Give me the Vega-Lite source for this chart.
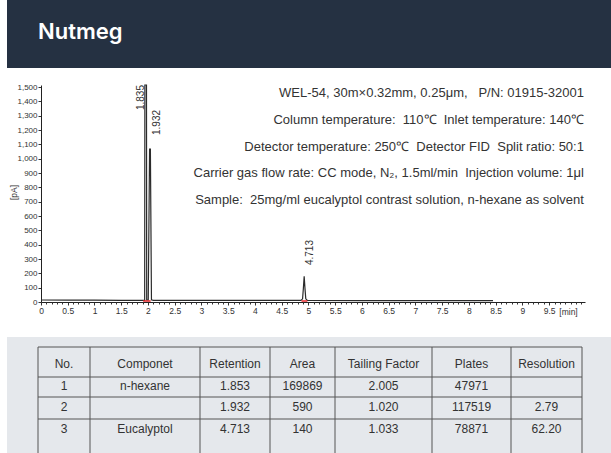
{
  "$schema": "https://vega.github.io/schema/vega-lite/v6.json",
  "background": "white",
  "padding": {"left": 7, "top": 0, "right": 0, "bottom": 0},
  "spacing": 0,
  "config": {"view": {"stroke": null}, "font": "Liberation Sans"},
  "vconcat": [
    {
      "width": 604,
      "height": 68,
      "view": {"fill": "#253142", "stroke": null},
      "data": {"values": [{"title": "Nutmeg"}]},
      "mark": {"type": "text", "align": "left", "baseline": "middle", "dx": -271, "dy": -2, "font": "Inter", "fontSize": 22, "fontWeight": 600, "color": "#ffffff"},
      "encoding": {"text": {"field": "title"}}
    },
    {
      "width": 604,
      "height": 269,
      "view": {"fill": "#ffffff", "stroke": null},
      "resolve": {"axis": {"x": "independent", "y": "independent"}},
      "layer": [
        {
          "data": {"values": [
            {"t": 0.0, "pA": 14}, {"t": 0.5, "pA": 13}, {"t": 1.0, "pA": 13}, {"t": 1.5, "pA": 12},
            {"t": 1.9, "pA": 12}, {"t": 1.938, "pA": 12}, {"t": 1.942, "pA": 1600}, {"t": 1.972, "pA": 1600},
            {"t": 1.976, "pA": 14}, {"t": 2.005, "pA": 14}, {"t": 2.03, "pA": 1067}, {"t": 2.045, "pA": 1067},
            {"t": 2.065, "pA": 15}, {"t": 2.1, "pA": 12}, {"t": 3.0, "pA": 11}, {"t": 4.0, "pA": 11},
            {"t": 4.86, "pA": 11}, {"t": 4.89, "pA": 22}, {"t": 4.905, "pA": 95}, {"t": 4.92, "pA": 180},
            {"t": 4.935, "pA": 95}, {"t": 4.95, "pA": 22}, {"t": 4.98, "pA": 11}, {"t": 6.0, "pA": 10},
            {"t": 7.0, "pA": 10}, {"t": 8.0, "pA": 10}, {"t": 8.45, "pA": 10}
          ]},
          "mark": {"type": "line", "color": "#2b2b2b", "strokeWidth": 1.2},
          "encoding": {
            "x": {
              "field": "t", "type": "quantitative",
              "scale": {"domain": [0, 10.17], "range": [34, 578], "nice": false, "zero": false},
              "axis": {
                "orient": "bottom", "offset": -35,
                "values": [0, 0.5, 1, 1.5, 2, 2.5, 3, 3.5, 4, 4.5, 5, 5.5, 6, 6.5, 7, 7.5, 8, 8.5, 9, 9.5],
                "format": ".1~f", "labelFontSize": 8.5, "labelColor": "#333333", "labelPadding": 1,
                "labelFlush": false, "labelOverlap": false,
                "tickSize": 3, "tickColor": "#333333", "domainColor": "#222222", "grid": false,
                "title": "[min]", "titleX": 561, "titleY": 5, "titleAlign": "center", "titleBaseline": "top",
                "titleFontSize": 8.5, "titleFontWeight": "normal", "titleColor": "#333333"
              }
            },
            "y": {
              "field": "pA", "type": "quantitative",
              "scale": {"domain": [0, 1515], "range": [234, 17], "nice": false, "zero": false, "clamp": true},
              "axis": {
                "orient": "left", "offset": -34,
                "values": [0, 100, 200, 300, 400, 500, 600, 700, 800, 900, 1000, 1100, 1200, 1300, 1400, 1500],
                "format": ",.0f", "labelFontSize": 8, "labelColor": "#333333", "labelPadding": 1,
                "labelFlush": false, "labelOverlap": false,
                "tickSize": 3, "tickColor": "#333333", "domainColor": "#222222", "grid": false,
                "title": "[pA]", "titleX": -28, "titleY": 124, "titleAngle": 270, "titleAlign": "center",
                "titleBaseline": "middle", "titleFontSize": 8.5, "titleFontWeight": "normal", "titleColor": "#333333"
              }
            }
          }
        },
        {
          "data": {"values": [{"t0": 1.91, "t1": 2.05}, {"t0": 4.87, "t1": 4.98}]},
          "mark": {"type": "rule", "color": "#e8262a", "strokeWidth": 1.5},
          "encoding": {
            "x": {
              "field": "t0", "type": "quantitative",
              "axis": {
                "orient": "bottom", "offset": -35, "labels": false, "domain": false, "title": null, "grid": false,
                "tickSize": 2, "tickColor": "#333333",
                "values": [0.1,0.2,0.3,0.4,0.6,0.7,0.8,0.9,1.1,1.2,1.3,1.4,1.6,1.7,1.8,1.9,2.1,2.2,2.3,2.4,2.6,2.7,2.8,2.9,3.1,3.2,3.3,3.4,3.6,3.7,3.8,3.9,4.1,4.2,4.3,4.4,4.6,4.7,4.8,4.9,5.1,5.2,5.3,5.4,5.6,5.7,5.8,5.9,6.1,6.2,6.3,6.4,6.6,6.7,6.8,6.9,7.1,7.2,7.3,7.4,7.6,7.7,7.8,7.9,8.1,8.2,8.3,8.4,8.6,8.7,8.8,8.9,9.1,9.2,9.3,9.4,9.6,9.7,9.8,9.9,10.0,10.1]
              }
            },
            "x2": {"field": "t1"},
            "y": {"datum": 7, "type": "quantitative", "axis": null}
          }
        },
        {
          "data": {"values": [
            {"label": "1.835", "t": 1.87, "h": 1340},
            {"label": "1.932", "t": 2.16, "h": 1166},
            {"label": "4.713", "t": 5.03, "h": 258}
          ]},
          "mark": {"type": "text", "angle": 270, "align": "left", "baseline": "middle", "fontSize": 10, "color": "#333333"},
          "encoding": {
            "x": {"field": "t", "type": "quantitative", "axis": null},
            "y": {"field": "h", "type": "quantitative", "axis": null},
            "text": {"field": "label"}
          }
        },
        {
          "data": {"values": [{}]},
          "mark": {"type": "text", "align": "right", "baseline": "middle", "fontSize": 13, "lineHeight": 26.75, "color": "#333333"},
          "encoding": {
            "x": {"datum": 10.15, "type": "quantitative", "axis": null},
            "y": {"datum": 1459, "type": "quantitative", "axis": null},
            "text": {"value": [
              "WEL-54, 30m×0.32mm, 0.25μm,\u00a0\u00a0 P/N: 01915-32001",
              "Column temperature:\u00a0 110℃\u00a0 Inlet temperature: 140℃",
              "Detector temperature: 250℃\u00a0 Detector FID\u00a0 Split ratio: 50:1",
              "Carrier gas flow rate: CC mode, N₂, 1.5ml/min\u00a0 Injection volume: 1μl",
              "Sample:\u00a0 25mg/ml eucalyptol contrast solution, n-hexane as solvent"
            ]}
          }
        }
      ]
    },
    {
      "width": 604,
      "height": 116,
      "view": {"fill": "#e5e8ec", "stroke": null},
      "resolve": {"scale": {"x": "independent", "y": "independent"}},
      "layer": [
        {
          "data": {"values": [{"r": 0}, {"r": 1}, {"r": 2}, {"r": 3}]},
          "mark": {"type": "rule", "color": "#555555", "strokeWidth": 1},
          "encoding": {
            "y": {"field": "r", "type": "quantitative", "scale": {"domain": [0, 1, 2, 3, 4], "range": [10, 40, 60, 82, 116], "nice": false, "zero": false}, "axis": null},
            "x": {"datum": 0, "type": "quantitative", "scale": {"domain": [0, 1, 2, 3, 4, 5, 6, 7], "range": [31, 83, 193, 263, 328, 425, 504, 575], "nice": false, "zero": false}, "axis": null},
            "x2": {"datum": 7}
          }
        },
        {
          "data": {"values": [{"c": 0}, {"c": 1}, {"c": 2}, {"c": 3}, {"c": 4}, {"c": 5}, {"c": 6}, {"c": 7}]},
          "mark": {"type": "rule", "color": "#555555", "strokeWidth": 1},
          "encoding": {
            "x": {"field": "c", "type": "quantitative", "scale": {"domain": [0, 1, 2, 3, 4, 5, 6, 7], "range": [31, 83, 193, 263, 328, 425, 504, 575], "nice": false, "zero": false}, "axis": null},
            "y": {"datum": 0, "type": "quantitative", "scale": {"domain": [0, 1, 2, 3, 4], "range": [10, 40, 60, 82, 116], "nice": false, "zero": false}, "axis": null},
            "y2": {"datum": 4}
          }
        },
        {
          "data": {"values": [
            {"row": 0, "col": 0, "text": "No."}, {"row": 0, "col": 1, "text": "Componet"}, {"row": 0, "col": 2, "text": "Retention"},
            {"row": 0, "col": 3, "text": "Area"}, {"row": 0, "col": 4, "text": "Tailing Factor"}, {"row": 0, "col": 5, "text": "Plates"},
            {"row": 0, "col": 6, "text": "Resolution"},
            {"row": 1, "col": 0, "text": "1"}, {"row": 1, "col": 1, "text": "n-hexane"}, {"row": 1, "col": 2, "text": "1.853"},
            {"row": 1, "col": 3, "text": "169869"}, {"row": 1, "col": 4, "text": "2.005"}, {"row": 1, "col": 5, "text": "47971"},
            {"row": 2, "col": 0, "text": "2"}, {"row": 2, "col": 2, "text": "1.932"}, {"row": 2, "col": 3, "text": "590"},
            {"row": 2, "col": 4, "text": "1.020"}, {"row": 2, "col": 5, "text": "117519"}, {"row": 2, "col": 6, "text": "2.79"},
            {"row": 3, "col": 0, "text": "3"}, {"row": 3, "col": 1, "text": "Eucalyptol"}, {"row": 3, "col": 2, "text": "4.713"},
            {"row": 3, "col": 3, "text": "140"}, {"row": 3, "col": 4, "text": "1.033"}, {"row": 3, "col": 5, "text": "78871"},
            {"row": 3, "col": 6, "text": "62.20"}
          ]},
          "mark": {"type": "text", "align": "center", "baseline": "middle", "fontSize": 12, "color": "#333333"},
          "encoding": {
            "x": {"field": "col", "type": "quantitative", "scale": {"domain": [0, 1, 2, 3, 4, 5, 6], "range": [57, 138, 228, 295.5, 376.5, 464.5, 539.5], "nice": false, "zero": false}, "axis": null},
            "y": {"field": "row", "type": "quantitative", "scale": {"domain": [0, 1, 2, 3], "range": [27, 49, 70, 92], "nice": false, "zero": false}, "axis": null},
            "text": {"field": "text"}
          }
        }
      ]
    }
  ]
}
